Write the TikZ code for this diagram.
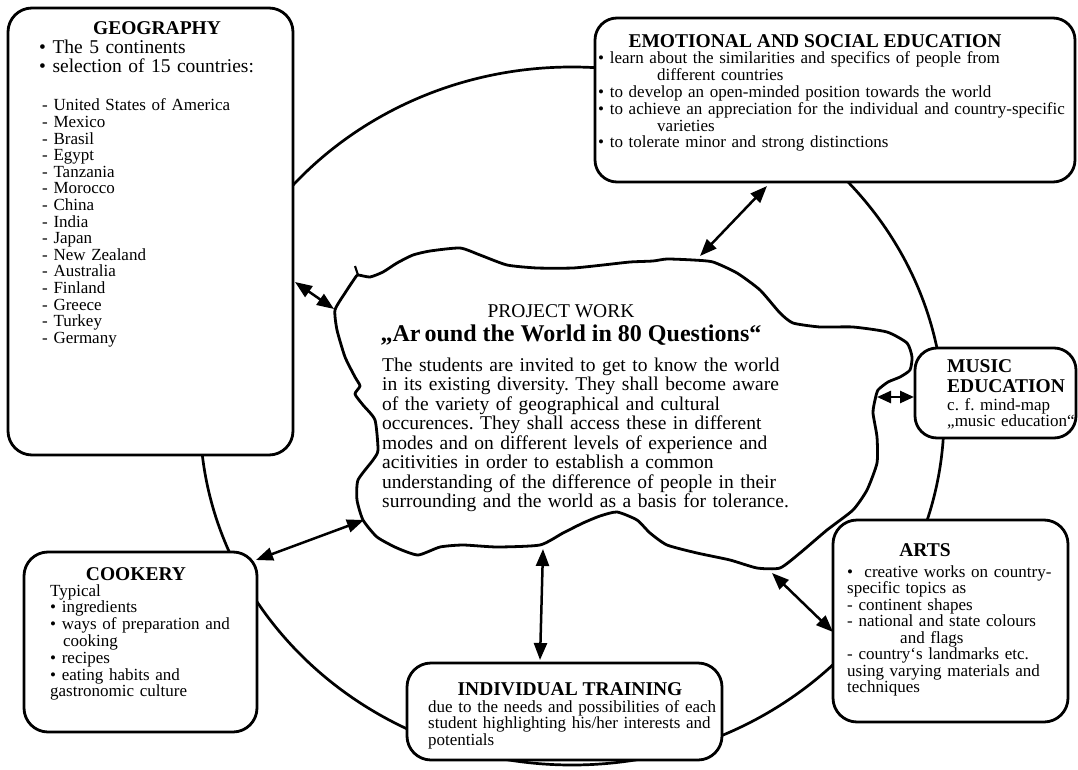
\documentclass[tikz,border=0pt]{standalone}
\usepackage{fontspec}
\setmainfont{Liberation Serif}
\usetikzlibrary{arrows.meta}
\frenchspacing
\begin{document}
\frenchspacing
\begin{tikzpicture}[x=1pt,y=-1pt, line join=round,
  box/.style={draw, fill=white, rounded corners=24pt, line width=2.8pt, inner sep=0pt},
  hd/.style={inner sep=0pt, anchor=base, font=\bfseries\fontsize{19.5}{20}\selectfont},
  bodyS/.style={inner sep=0pt, anchor=base west, align=left, font=\fontsize{17}{16.8}\selectfont},
  bodyL/.style={inner sep=0pt, anchor=base west, align=left, font=\fontsize{19.5}{19.5}\selectfont},
  dbl/.style={{Triangle[length=17pt,width=13pt]}-{Triangle[length=17pt,width=13pt]}, line width=2.5pt},
  dbls/.style={{Triangle[length=14pt,width=12pt]}-{Triangle[length=14pt,width=12pt]}, line width=2.5pt}]
\useasboundingbox (0,0) rectangle (1078,770);
% big circle
\draw[line width=2.7pt] (572,416) ellipse [x radius=372pt, y radius=349pt];
% boxes
\node[box, minimum width=285pt, minimum height=447pt] (geo) at (150.5,231.5) {};
\node[box, minimum width=480pt, minimum height=164pt, rounded corners=22pt] (emo) at (835,100) {};
\node[box, minimum width=161pt, minimum height=90pt, rounded corners=22pt] (mus) at (995.5,393) {};
\node[box, minimum width=235pt, minimum height=202pt] (arts) at (950.5,621) {};
\node[box, minimum width=233pt, minimum height=180pt] (cook) at (140.5,642) {};
\node[box, minimum width=315pt, minimum height=97pt] (train) at (564.5,711.5) {};
% blob
\draw[line width=2.8pt, fill=white] plot[smooth cycle, tension=0.35] coordinates {
(358,275) (370,277) (383,272) (397,263) (413,255) (430,251) (460,248) (480,255)
(507,265) (537,268) (573,268) (603,265) (630,262) (653,261) (667,259) (693,260)
(713,262) (737,273) (760,290) (780,313) (793,323) (820,327) (853,327) (887,332)
(907,343) (912,357) (910,370) (900,377) (888,382) (878,390) (875,400) (873,413)
(877,437) (877,463) (867,490) (853,510) (827,530) (800,553) (780,568) (757,568)
(730,560) (697,553) (667,545) (650,533) (637,520) (617,512) (600,516) (583,523)
(563,533) (540,545) (497,547) (463,545) (440,547) (418,555) (397,548) (377,537)
(363,520) (357,500) (358,480) (373,460) (378,450) (375,420) (363,405) (355,394)
(360,386) (355,377) (345,357) (337,330) (335,310) (345,293) (355,278)};
\draw[line width=2.2pt] (355,266) -- (358,275);
% arrow end points
\coordinate (g1) at (295,282); \coordinate (b1) at (334,309);
\coordinate (e1) at (767,186); \coordinate (b2) at (700,256);
\coordinate (m1) at (914,397); \coordinate (b3) at (877,397);
\coordinate (a1) at (833,632); \coordinate (b4) at (772,573);
\coordinate (t1) at (540,660); \coordinate (b5) at (543,549);
\coordinate (c1) at (256,560); \coordinate (b6) at (364,520);
\draw[dbl] (g1) -- (b1);
\draw[dbl] (e1) -- (b2);
\draw[dbls] (m1) -- (b3);
\draw[dbl] (a1) -- (b4);
\draw[dbl] (t1) -- (b5);
\draw[dbl] (c1) -- (b6);
% geography text
\node[hd] (geoh) at (157,35) {GEOGRAPHY};
\node[bodyL, text width=250pt, font=\fontsize{19.5}{19}\selectfont] (geob) at (39,54) {• The 5 continents\\• selection of 15 countries:};
\node[bodyS, text width=240pt, font=\fontsize{17}{16.6}\selectfont] (geol) at (42,111) {- United States of America\\- Mexico\\- Brasil\\- Egypt\\- Tanzania\\- Morocco\\- China\\- India\\- Japan\\- New Zealand\\- Australia\\- Finland\\- Greece\\- Turkey\\- Germany};
% emotional
\node[hd] (emoh) at (815,48) {EMOTIONAL AND SOCIAL EDUCATION};
\node[bodyS, text width=470pt] (emob) at (598,64) {• learn about the similarities and specifics of people from\\\hspace*{59pt}different countries\\• to develop an open-minded position towards the world\\• to achieve an appreciation for the individual and country-specific\\\hspace*{59pt}varieties\\• to tolerate minor and strong distinctions};
% music
\node[bodyL, text width=150pt, font=\bfseries\fontsize{19.5}{20}\selectfont] (mush) at (947,372) {MUSIC\\EDUCATION};
\node[bodyS, text width=150pt] (musb) at (947,410) {c. f. mind-map\\„music education“};
% arts
\node[hd] (artsh) at (925,556) {ARTS};
\node[bodyS, text width=215pt, font=\fontsize{17}{16.5}\selectfont] (artsb) at (847,577) {•\ \ creative works on country-\\specific topics as\\- continent shapes\\- national and state colours\\\hspace*{53pt}and flags\\- country‘s landmarks etc.\\using varying materials and\\techniques};
% cookery
\node[hd] (cookh) at (136,580) {COOKERY};
\node[bodyS, text width=200pt] (cookb) at (50,596) {Typical\\• ingredients\\• ways of preparation and\\\hspace*{13pt}cooking\\• recipes\\• eating habits and\\gastronomic culture};
% training
\node[hd] (trainh) at (570,695) {INDIVIDUAL TRAINING};
\node[bodyS, text width=300pt] (trainb) at (428,712) {due to the needs and possibilities of each\\student highlighting his/her interests and\\potentials};
% project work
\node[inner sep=0pt, anchor=base, font=\fontsize{19.5}{20}\selectfont] (pw) at (561,317) {PROJECT WORK};
\node[inner sep=0pt, anchor=base, font=\bfseries\fontsize{24}{26}\selectfont] (title) at (571,341) {„Ar\kern4pt ound the World in 80 Questions“};
\node[bodyL, text width=420pt] (blobt) at (382,371) {The students are invited to get to know the world\\in its existing diversity. They shall become aware\\of the variety of geographical and cultural\\occurences. They shall access these in different\\modes and on different levels of experience and\\acitivities in order to establish a common\\understanding of the difference of people in their\\surrounding and the world as a basis for tolerance.};
\end{tikzpicture}
\end{document}
